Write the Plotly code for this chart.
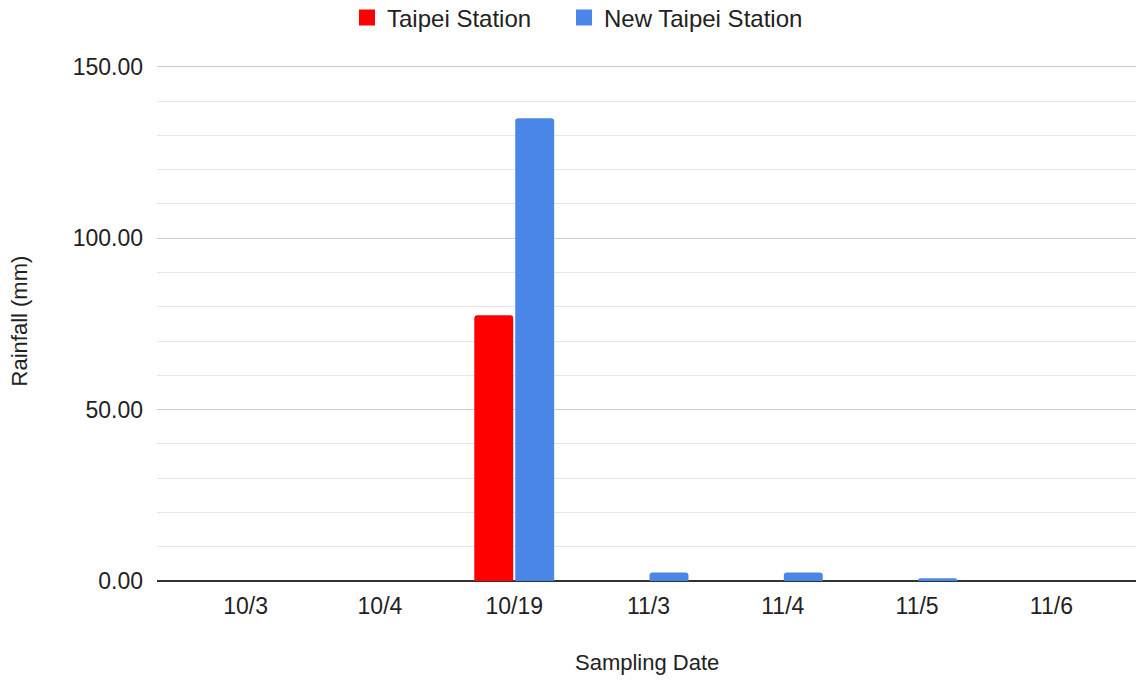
import plotly.graph_objects as go

dates = ["10/3", "10/4", "10/19", "11/3", "11/4", "11/5", "11/6"]
taipei = [0, 0, 77.5, 0, 0, 0, 0]
new_taipei = [0, 0, 135.0, 2.5, 2.5, 0.8, 0]
y_ticks = [0, 50, 100, 150]
y_tick_labels = ["0.00", "50.00", "100.00", "150.00"]
series_names = ["Taipei Station", "New Taipei Station"]
series_colors = ["#ff0000", "#4a86e8"]
legend_ids = ["legend", "legend2"]

FONT = "Liberation Sans, Arial, sans-serif"
TXT = "#222222"
W, H = 1136, 682

fig = go.Figure()
for name, vals, col in zip(series_names, [taipei, new_taipei], series_colors):
    fig.add_trace(go.Bar(x=dates, y=vals, name=name, showlegend=False,
                         marker=dict(color=col, line=dict(width=0))))
# legend entries with larger square swatches
for name, col, lg in zip(series_names, series_colors, legend_ids):
    fig.add_trace(go.Scatter(x=[None], y=[None], mode="markers", name=name,
                             marker=dict(symbol="square", size=22, color=col),
                             showlegend=True, legend=lg))

legend_style = dict(orientation="h", xref="container", yref="container",
                    xanchor="left", y=1 - 18 / H, yanchor="middle",
                    font=dict(size=24, color=TXT), itemsizing="trace",
                    bgcolor="rgba(0,0,0,0)")

fig.update_layout(
    width=W, height=H,
    margin=dict(l=157, r=0, t=60, b=101),
    paper_bgcolor="white", plot_bgcolor="white",
    barmode="group", bargap=0.39, bargroupgap=0.05, barcornerradius=3,
    font=dict(family=FONT, size=22, color=TXT),
    legend=dict(x=347 / W, **legend_style),
    legend2=dict(x=564 / W, **legend_style),
    showlegend=True,
)
fig.update_xaxes(
    type="category", range=[-0.66, 6.63],
    showgrid=False, showline=False, ticks="",
    ticklabelstandoff=9,
    tickfont=dict(family=FONT, size=23, color=TXT),
)
fig.update_yaxes(
    range=[0, 152], tickvals=y_ticks, ticktext=y_tick_labels,
    showgrid=True, gridcolor="#cccccc", gridwidth=1,
    minor=dict(dtick=10, showgrid=True, gridcolor="#e6e6e6", gridwidth=1),
    zeroline=True, zerolinecolor="#333333", zerolinewidth=1.5,
    showline=False, ticks="", ticklabelstandoff=13,
    tickfont=dict(family=FONT, size=23, color=TXT),
)
fig.add_annotation(text="Rainfall (mm)", xref="paper", yref="paper",
                   x=-0.140, y=0.5, textangle=-90, showarrow=False,
                   xanchor="center", yanchor="middle",
                   font=dict(family=FONT, size=22, color=TXT))
fig.add_annotation(text="Sampling Date", xref="paper", yref="paper",
                   x=0.5, y=-0.157, showarrow=False,
                   xanchor="center", yanchor="middle",
                   font=dict(family=FONT, size=22, color=TXT))

fig.write_html("out.html",
               config={"displayModeBar": False},
               post_script="document.body.style.margin='0';"
                           "document.body.style.overflow='hidden';")
